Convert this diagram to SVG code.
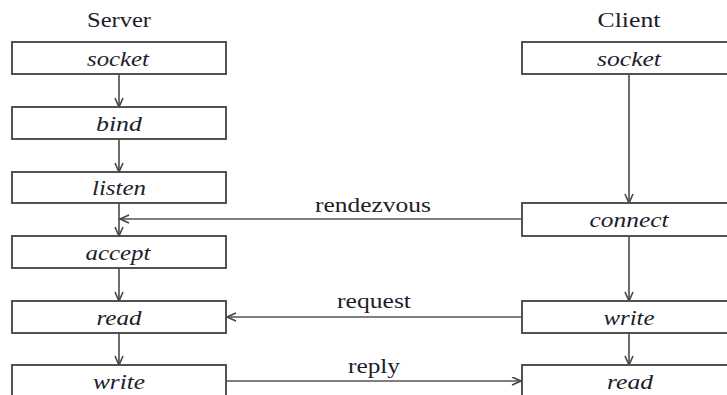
<svg xmlns="http://www.w3.org/2000/svg" width="727" height="395" viewBox="0 0 727 395">
  <style>
    .box { fill: #ffffff; stroke: #4a4a4a; stroke-width: 1.9; }
    .lbl { font-family: 'Liberation Serif', Tinos, 'Times New Roman', Times, serif; font-style: italic; font-size: 21px; fill: #1d1d2b; text-anchor: middle; }
    .title { font-family: 'Liberation Serif', Tinos, 'Times New Roman', Times, serif; font-size: 21px; fill: #1d1d2b; text-anchor: middle; }
    .msg { font-family: 'Liberation Serif', Tinos, 'Times New Roman', Times, serif; font-size: 21px; fill: #1d1d2b; text-anchor: middle; }
    .wire { fill: none; stroke: #555555; stroke-width: 1.7; marker-end: url(#arrow); }
  </style>
  <defs>
    <marker id="arrow" markerUnits="userSpaceOnUse" markerWidth="12" markerHeight="10" refX="10" refY="4.5" orient="auto">
      <path d="M1,0.5 L10,4.5 L1,8.5" fill="none" stroke="#444444" stroke-width="1.6"/>
    </marker>
  </defs>
  <rect width="727" height="395" fill="#ffffff"/>

  <!-- column headings -->
  <text class="title" x="119" y="27" textLength="64" lengthAdjust="spacingAndGlyphs">Server</text>
  <text class="title" x="629" y="27" textLength="63" lengthAdjust="spacingAndGlyphs">Client</text>

  <!-- connectors -->
  <g id="connectors">
    <line class="wire" x1="119" y1="74" x2="119" y2="107"/>
    <line class="wire" x1="119" y1="139" x2="119" y2="172"/>
    <line class="wire" x1="119" y1="203" x2="119" y2="236"/>
    <line class="wire" x1="119" y1="268" x2="119" y2="301"/>
    <line class="wire" x1="119" y1="333" x2="119" y2="365"/>
    <line class="wire" x1="629" y1="74" x2="629" y2="203"/>
    <line class="wire" x1="629" y1="236" x2="629" y2="301"/>
    <line class="wire" x1="629" y1="333" x2="629" y2="365"/>
    <line class="wire" x1="522" y1="219" x2="120" y2="219"/>
    <line class="wire" x1="522" y1="317" x2="227" y2="317"/>
    <line class="wire" x1="226" y1="381" x2="521" y2="381"/>
    <text class="msg" x="373" y="212" textLength="116" lengthAdjust="spacingAndGlyphs">rendezvous</text>
    <text class="msg" x="374" y="308" textLength="74" lengthAdjust="spacingAndGlyphs">request</text>
    <text class="msg" x="374" y="373" textLength="52" lengthAdjust="spacingAndGlyphs">reply</text>
  </g>

  <!-- server calls -->
  <g id="server-socket"><rect class="box" x="12" y="42" width="214" height="32"/><text class="lbl" x="118" y="66" textLength="62" lengthAdjust="spacingAndGlyphs">socket</text></g>
  <g id="server-bind"><rect class="box" x="12" y="107" width="214" height="32"/><text class="lbl" x="119" y="131" textLength="46" lengthAdjust="spacingAndGlyphs">bind</text></g>
  <g id="server-listen"><rect class="box" x="12" y="172" width="214" height="31"/><text class="lbl" x="119" y="195" textLength="54" lengthAdjust="spacingAndGlyphs">listen</text></g>
  <g id="server-accept"><rect class="box" x="12" y="236" width="214" height="32"/><text class="lbl" x="118" y="260" textLength="65" lengthAdjust="spacingAndGlyphs">accept</text></g>
  <g id="server-read"><rect class="box" x="12" y="301" width="214" height="32"/><text class="lbl" x="119" y="325" textLength="45" lengthAdjust="spacingAndGlyphs">read</text></g>
  <g id="server-write"><rect class="box" x="12" y="365" width="214" height="34"/><text class="lbl" x="119" y="389" textLength="52" lengthAdjust="spacingAndGlyphs">write</text></g>

  <!-- client calls -->
  <g id="client-socket"><rect class="box" x="522" y="42" width="214" height="32"/><text class="lbl" x="629" y="66" textLength="64" lengthAdjust="spacingAndGlyphs">socket</text></g>
  <g id="client-connect"><rect class="box" x="522" y="203" width="214" height="33"/><text class="lbl" x="629" y="227" textLength="79" lengthAdjust="spacingAndGlyphs">connect</text></g>
  <g id="client-write"><rect class="box" x="522" y="301" width="214" height="32"/><text class="lbl" x="629" y="325" textLength="51" lengthAdjust="spacingAndGlyphs">write</text></g>
  <g id="client-read"><rect class="box" x="522" y="365" width="214" height="34"/><text class="lbl" x="630" y="389" textLength="46" lengthAdjust="spacingAndGlyphs">read</text></g>
</svg>
